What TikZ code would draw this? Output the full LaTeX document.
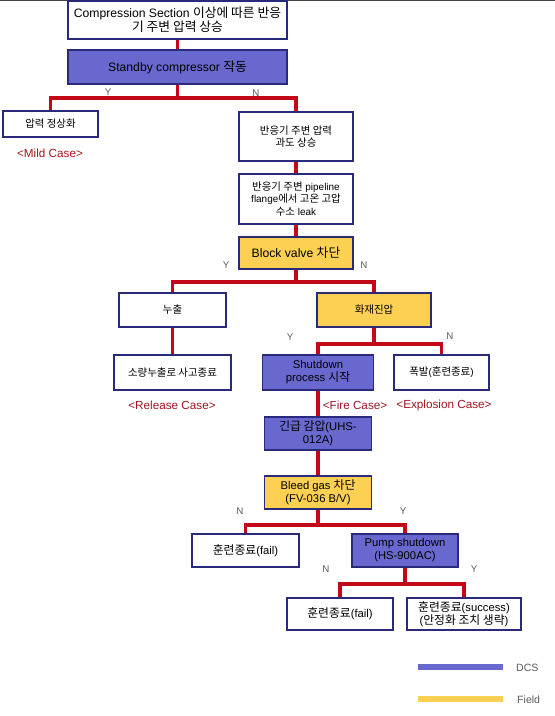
\documentclass[tikz,border=0pt]{standalone}
\usepackage{fontspec}
\setmainfont{Liberation Sans}
\newfontfamily\kr{Noto Sans CJK KR}[Scale=1.05]
\definecolor{dcsblue}{RGB}{104,104,206}
\definecolor{fieldyel}{RGB}{252,208,82}
\definecolor{boxline}{RGB}{42,42,122}
\definecolor{linkred}{RGB}{196,8,24}
\definecolor{casered}{RGB}{160,20,30}
\definecolor{yngray}{RGB}{90,90,90}
\newcommand{\px}{0.03cm}
\newcommand{\yn}[3]{\node[ynlabel] (#1) at (#2) {#3};}
\tikzset{
  stepbox/.style 2 args={draw=boxline, line width=1.3pt, fill=white, align=center,
    inner sep=0pt, minimum width=#1*\px, minimum height=#2*\px,
    font=\fontsize{8.5}{10.5}\selectfont},
  dcsbox/.style={fill=dcsblue},
  fieldbox/.style={fill=fieldyel},
  bigtext/.style={font=\fontsize{10.4}{12}\selectfont},
  midtext/.style={font=\fontsize{9.6}{11}\selectfont},
  conn/.style={draw=linkred, line width=3.4pt},
  ynlabel/.style={text=yngray, font=\fontsize{8.3}{9}\selectfont, inner sep=0pt},
  caselabel/.style={text=casered, font=\fontsize{10}{12}\selectfont, inner sep=0pt},
  legendbar/.style={line width=5pt}
}
\begin{document}
\begin{tikzpicture}[x=\px, y=-\px]
    \useasboundingbox (0,0) rectangle (555,716);
    \draw[black!75, line width=0.8pt] (0,0.4) -- (555,0.4);

    % boxes
    \node[stepbox={219}{38}, bigtext] (start) at (177.5,20) {Compression Section {\kr 이상에 따른 반응}\\{\kr 기 주변 압력 상승}};
    \node[stepbox={219}{34}, dcsbox, bigtext] (standby) at (177.5,67) {Standby compressor {\kr 작동}};
    \node[stepbox={95}{26}] (normal) at (50.5,124) {\kr 압력 정상화};
    \node[stepbox={114}{49}] (rise) at (296,136.5) {\kr 반응기 주변 압력\\\kr 과도 상승};
    \node[stepbox={114}{50}] (leak) at (296,199) {{\kr 반응기 주변} pipeline\\flange{\kr 에서 고온 고압}\\{\kr 수소} leak};
    \node[stepbox={114}{32}, fieldbox, bigtext] (block) at (296,253) {Block valve {\kr 차단}};
    \node[stepbox={107}{34}] (release) at (172.5,310) {\kr 누출};
    \node[stepbox={114}{34}, fieldbox] (fire) at (374,310) {\kr 화재진압};
    \node[stepbox={117}{35}] (minor) at (172.5,372.5) {\kr 소량누출로 사고종료};
    \node[stepbox={111}{35}, dcsbox, midtext] (sdp) at (318,372.5) {Shutdown\\process {\kr 시작}};
    \node[stepbox={95}{35}] (explo) at (441.5,372.5) {{\kr 폭발}({\kr 훈련종료})};
    \node[stepbox={107}{33}, dcsbox, midtext] (depress) at (318,433.5) {{\kr 긴급 감압}(UHS-\\012A)};
    \node[stepbox={107}{33}, fieldbox, midtext] (bleed) at (318,492.5) {Bleed gas {\kr 차단}\\(FV-036 B/V)};
    \node[stepbox={107}{33}, midtext] (failA) at (245.5,550.5) {{\kr 훈련종료}(fail)};
    \node[stepbox={106}{33}, dcsbox, midtext] (pump) at (405,550.5) {Pump shutdown\\(HS-900AC)};
    \node[stepbox={106}{32}, midtext] (failB) at (340,614) {{\kr 훈련종료}(fail)};
    \node[stepbox={114}{32}, midtext] (success) at (464,614) {{\kr 훈련종료}(success)\\({\kr 안정화 조치 생략})};

    % connectors
    \draw[conn] (start) -- (standby);
    \draw[conn] (standby.south) -- ++(0,13) -| (normal.north);
    \draw[conn] (standby.south) -- ++(0,13) -| (rise.north);
    \draw[conn] (rise) -- (leak);
    \draw[conn] (leak) -- (block);
    \draw[conn] (block.south) -- ++(0,12) -| (release.north);
    \draw[conn] (block.south) -- ++(0,12) -| (fire.north);
    \draw[conn] (release) -- (minor);
    \draw[conn] (fire.south) -- ++(0,16) -| (sdp.north);
    \draw[conn] (fire.south) -- ++(0,16) -| (explo.north);
    \draw[conn] (sdp) -- (depress);
    \draw[conn] (depress) -- (bleed);
    \draw[conn] (bleed.south) -- ++(0,15) -| (failA.north);
    \draw[conn] (bleed.south) -- ++(0,15) -| (pump.north);
    \draw[conn] (pump.south) -- ++(0,16) -| (failB.north);
    \draw[conn] (pump.south) -- ++(0,16) -| (success.north);

    % Y / N
    \yn{y1}{108,92}{Y}
    \yn{n1}{256,93}{N}
    \yn{y2}{226,265}{Y}
    \yn{n2}{364,265}{N}
    \yn{y3}{290,337}{Y}
    \yn{n3}{450,336}{N}
    \yn{n4}{240,511}{N}
    \yn{y4}{403,511}{Y}
    \yn{n5}{326,569}{N}
    \yn{y5}{474,569}{Y}

    % cases
    \node[caselabel] (mild) at (50,153) {<Mild Case>};
    \node[caselabel] (relcase) at (172,405) {<Release Case>};
    \node[caselabel] (firecase) at (355,405) {<Fire Case>};
    \node[caselabel] (explcase) at (444,405) {<Explosion Case>};

    % legend
    \coordinate (dcsA) at (418,667);
    \coordinate (dcsB) at (503,667);
    \coordinate (fldA) at (418,699);
    \coordinate (fldB) at (503,699);
    \draw[legendbar, dcsblue] (dcsA) -- (dcsB);
    \draw[legendbar, fieldyel] (fldA) -- (fldB);
    \node[ynlabel, anchor=west, font=\fontsize{9}{10}\selectfont] (dcs) at (516,668) {DCS};
    \node[ynlabel, anchor=west, font=\fontsize{9}{10}\selectfont] (field) at (517,700) {Field};
\end{tikzpicture}
\end{document}
